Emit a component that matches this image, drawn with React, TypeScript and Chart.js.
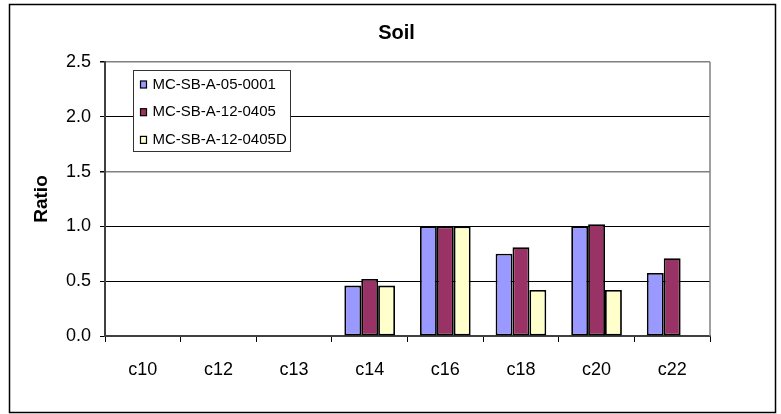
import React, { useEffect, useRef } from "react";
import { Chart, registerables } from "chart.js";

Chart.register(...registerables);

const categories = ["c10", "c12", "c13", "c14", "c16", "c18", "c20", "c22"];
const seriesNames = ["MC-SB-A-05-0001", "MC-SB-A-12-0405", "MC-SB-A-12-0405D"];
const seriesA: (number | null)[] = [null, null, null, 0.46, 1.0, 0.75, 1.0, 0.575];
const seriesB: (number | null)[] = [null, null, null, 0.52, 1.0, 0.81, 1.02, 0.71];
const seriesC: (number | null)[] = [null, null, null, 0.46, 1.0, 0.42, 0.42, null];
const seriesColors = ["#9999FF", "#993366", "#FFFFCC"];
const yMin = 0;
const yMax = 2.5;
const yStep = 0.5;

const FONT = "'Liberation Sans', Arial, sans-serif";

const framePlugin = {
  id: "frame",
  beforeDraw(chart: any) {
    const ctx = chart.ctx;
    ctx.save();
    ctx.fillStyle = "#ffffff";
    ctx.fillRect(0, 0, chart.width, chart.height);
    ctx.strokeStyle = "#000000";
    ctx.lineWidth = 1.5;
    ctx.strokeRect(9.5, 4.5, 766, 408);
    ctx.restore();
  },
  afterDraw(chart: any) {
    const ctx = chart.ctx;
    const a = chart.chartArea;
    ctx.save();
    // right plot-area border
    ctx.strokeStyle = "#808080";
    ctx.lineWidth = 1.5;
    ctx.beginPath();
    ctx.moveTo(a.right, a.top);
    ctx.lineTo(a.right, a.bottom);
    ctx.stroke();
    // legend box
    const lx = a.left + 28.5;
    const ly = a.top + 8.5;
    const lw = 157;
    const lh = 81;
    ctx.fillStyle = "#ffffff";
    ctx.fillRect(lx, ly, lw, lh);
    ctx.strokeStyle = "#333333";
    ctx.lineWidth = 1;
    ctx.strokeRect(lx, ly, lw, lh);
    ctx.font = `15px ${FONT}`;
    ctx.textBaseline = "middle";
    ctx.textAlign = "left";
    chart.data.datasets.forEach((ds: any, i: number) => {
      const cy = ly + 14 + i * 27.7;
      ctx.fillStyle = ds.backgroundColor;
      ctx.fillRect(lx + 7, cy - 3.5, 6, 7);
      ctx.strokeStyle = "#000";
      ctx.lineWidth = 1.2;
      ctx.strokeRect(lx + 7, cy - 3.5, 6, 7);
      ctx.fillStyle = "#000";
      ctx.fillText(ds.label, lx + 19, cy);
    });
    ctx.restore();
  },
};

export default function App() {
  const ref = useRef<HTMLCanvasElement | null>(null);
  useEffect(() => {
    document.body.style.margin = "0";
    const canvas = ref.current!;
    const seriesData = [seriesA, seriesB, seriesC];
    const chart = new Chart(canvas, {
      type: "bar",
      data: {
        labels: categories,
        datasets: seriesNames.map((name, i) => ({
          label: name,
          data: seriesData[i],
          backgroundColor: seriesColors[i],
          borderColor: "#000000",
          borderWidth: 1.8,
          borderSkipped: false,
          categoryPercentage: 0.67,
          barPercentage: 1.0,
        })),
      },
      options: {
        animation: false,
        responsive: false,
        devicePixelRatio: 1,
        layout: { padding: { left: 12, right: 0, top: 0, bottom: 0 } },
        plugins: {
          legend: { display: false },
          tooltip: { enabled: false },
          title: {
            display: true,
            text: "Soil",
            color: "#000",
            font: { family: FONT, size: 20, weight: "bold" },
            padding: { top: 21, bottom: 17 },
          },
        },
        scales: {
          x: {
            offset: true,
            grid: {
              display: true,
              drawOnChartArea: false,
              drawTicks: true,
              tickLength: 6,
              tickColor: "#000",
              offset: true,
            },
            border: { display: true, color: "#404040", width: 2 },
            ticks: {
              color: "#000",
              font: { family: FONT, size: 18 },
              padding: 17,
            },
            afterFit: (s: any) => {
              s.height = 78;
            },
          },
          y: {
            min: yMin,
            max: yMax,
            ticks: {
              stepSize: yStep,
              color: "#000",
              font: { family: FONT, size: 18 },
              padding: 9,
              callback: (v: any) => Number(v).toFixed(1),
            },
            grid: {
              color: (c: any) =>
                c.tick && (c.tick.value === 1.5 || c.tick.value === 2.5) ? "#808080" : "#000000",
              lineWidth: (c: any) =>
                c.tick && (c.tick.value === 1.5 || c.tick.value === 2.5) ? 1.5 : 1,
              tickLength: 5,
              tickColor: "#000",
            },
            border: { display: true, color: "#404040", width: 2 },
            title: {
              display: true,
              text: "Ratio",
              color: "#000",
              font: { family: FONT, size: 19, weight: "bold" },
              padding: { top: 18, bottom: 0 },
            },
            afterFit: (s: any) => {
              s.width = 93;
            },
          },
          y2: {
            position: "right",
            display: true,
            grid: { display: false, drawTicks: false },
            border: { display: false },
            ticks: { display: false },
            afterFit: (s: any) => {
              s.width = 71;
            },
          },
        },
      },
      plugins: [framePlugin],
    });
    return () => chart.destroy();
  }, []);
  return (
    <div style={{ width: 781, height: 414 }}>
      <canvas ref={ref} width={781} height={414} style={{ display: "block" }} />
    </div>
  );
}
